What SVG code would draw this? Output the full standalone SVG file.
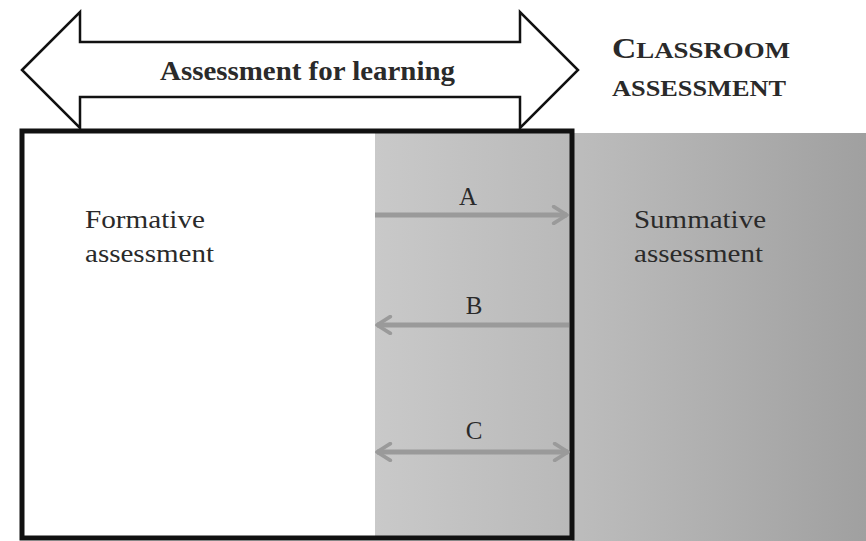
<svg xmlns="http://www.w3.org/2000/svg" width="866" height="541" viewBox="0 0 866 541">
<style>
.t{font-family:"Liberation Serif","Times New Roman",serif;fill:#2a2a2a}
.c{stroke:#9a9a9a;stroke-width:5;fill:none}
</style>
<defs>
<linearGradient id="g1" x1="0" x2="1" y1="0" y2="0"><stop offset="0" stop-color="#c9c9c9"/><stop offset="1" stop-color="#b9b9b9"/></linearGradient>
<linearGradient id="g2" x1="0" x2="1" y1="0" y2="0"><stop offset="0" stop-color="#bdbdbd"/><stop offset="1" stop-color="#a0a0a0"/></linearGradient>
<marker id="ah" viewBox="0 0 12 12" refX="10" refY="6" markerWidth="4" markerHeight="4" orient="auto-start-reverse" markerUnits="strokeWidth">
<path d="M2,1 L10,6 L2,11" fill="none" stroke="#9a9a9a" stroke-width="2.2" stroke-linecap="round" stroke-linejoin="round"/>
</marker>
</defs>
<rect width="866" height="541" fill="#fff"/>
<g id="summative">
<rect x="572" y="133" width="294" height="408" fill="url(#g2)"/>
<text class="t" x="634" y="228" font-size="25" textLength="132" lengthAdjust="spacingAndGlyphs">Summative</text>
<text class="t" x="634" y="262" font-size="25" textLength="129" lengthAdjust="spacingAndGlyphs">assessment</text>
</g>
<g id="overlap">
<rect x="375" y="133" width="197" height="405" fill="url(#g1)"/>
</g>
<g id="classroom">
<rect x="22" y="131" width="550" height="407" fill="none" stroke="#111" stroke-width="5"/>
<text class="t" x="85" y="228" font-size="25" textLength="120" lengthAdjust="spacingAndGlyphs">Formative</text>
<text class="t" x="85" y="262" font-size="25" textLength="129" lengthAdjust="spacingAndGlyphs">assessment</text>
</g>
<g id="afl">
<path d="M22,70 L80,12 L80,42 L520,42 L520,12 L578,70 L520,128 L520,97 L80,97 L80,128 Z" fill="#fff" stroke="#111" stroke-width="2.5" stroke-linejoin="miter"/>
<text class="t" x="160" y="80" font-size="28" font-weight="bold" fill="#111" textLength="295" lengthAdjust="spacingAndGlyphs">Assessment for learning</text>
</g>
<g id="label-classroom">
<text class="t" x="612" y="58" font-weight="bold" font-size="24" fill="#111" textLength="178" lengthAdjust="spacingAndGlyphs"><tspan font-size="30">C</tspan>LASSROOM</text>
<text class="t" x="612" y="96" font-weight="bold" font-size="24" fill="#111" textLength="174" lengthAdjust="spacingAndGlyphs">ASSESSMENT</text>
</g>
<g id="connectors">
<line class="c" x1="375" y1="215" x2="567" y2="215" marker-end="url(#ah)"/>
<line class="c" x1="569" y1="325" x2="377" y2="325" marker-end="url(#ah)"/>
<line class="c" x1="377" y1="452" x2="568" y2="452" marker-start="url(#ah)" marker-end="url(#ah)"/>
<text class="t" x="468" y="205" font-size="25" text-anchor="middle">A</text>
<text class="t" x="474" y="314" font-size="25" text-anchor="middle">B</text>
<text class="t" x="474" y="439" font-size="25" text-anchor="middle">C</text>
</g>
</svg>
